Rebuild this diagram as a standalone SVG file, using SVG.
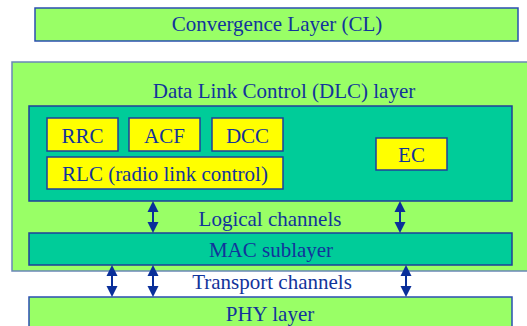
<svg xmlns="http://www.w3.org/2000/svg" width="527" height="326" viewBox="0 0 527 326">
  <style>
    text { font-family: "Liberation Serif", "DejaVu Serif", serif; font-size: 21px; fill: #12339b; text-anchor: middle; }
    .layer { fill: #99ff66; stroke: #2a4fb0; stroke-width: 1.5; }
    .outer { fill: #99ff66; stroke: #6a86b8; stroke-width: 1.5; }
    .sub { fill: #00cc99; stroke: #1f3f9a; stroke-width: 1.5; }
    .fn { fill: #ffff00; stroke: #1f3f9a; stroke-width: 1.5; }
    .shaft { stroke: #0a2f9a; stroke-width: 2; fill: none; }
    .tip { fill: #0a2f9a; }
  </style>
  <defs>
    <!-- double-headed vertical link, 32px tall, drawn from its top centre -->
    <g id="dbl">
      <line class="shaft" x1="0" y1="9" x2="0" y2="23"/>
      <path class="tip" d="M0,0 L5.5,11 L-5.5,11 Z"/>
      <path class="tip" d="M0,32 L5.5,21 L-5.5,21 Z"/>
    </g>
  </defs>
  <rect width="527" height="326" fill="#ffffff"/>

  <g id="cl">
    <rect class="layer" x="35" y="8" width="483" height="33"/>
    <text x="277" y="31">Convergence Layer (CL)</text>
  </g>

  <g id="dlc">
    <rect class="outer" x="12" y="62" width="520" height="209"/>
    <text x="284" y="98">Data Link Control (DLC) layer</text>
  </g>

  <g id="dlc-core">
    <rect class="sub" x="29" y="106" width="483" height="95"/>
  </g>

  <g id="rrc">
    <rect class="fn" x="47" y="118" width="71" height="33"/>
    <text x="82.5" y="143">RRC</text>
  </g>
  <g id="acf">
    <rect class="fn" x="129" y="118" width="71" height="33"/>
    <text x="164.5" y="143">ACF</text>
  </g>
  <g id="dcc">
    <rect class="fn" x="212" y="118" width="71" height="33"/>
    <text x="247.5" y="143">DCC</text>
  </g>
  <g id="rlc">
    <rect class="fn" x="47" y="157" width="236" height="32"/>
    <text x="165" y="181">RLC (radio link control)</text>
  </g>
  <g id="ec">
    <rect class="fn" x="376" y="138" width="71" height="32"/>
    <text x="411.5" y="162">EC</text>
  </g>

  <g id="logical-label">
    <text x="270" y="226">Logical channels</text>
  </g>

  <g id="mac">
    <rect class="sub" x="29" y="233" width="483" height="32"/>
    <text x="271" y="257">MAC sublayer</text>
  </g>

  <g id="transport-label">
    <text x="272" y="289">Transport channels</text>
  </g>

  <g id="phy">
    <rect class="layer" x="29" y="297" width="483" height="40"/>
    <text x="270" y="321">PHY layer</text>
  </g>

  <g id="connectors">
    <use href="#dbl" x="153" y="201"/>
    <use href="#dbl" x="400" y="201"/>
    <use href="#dbl" x="112" y="265"/>
    <use href="#dbl" x="153" y="265"/>
    <use href="#dbl" x="406" y="265"/>
  </g>
</svg>
